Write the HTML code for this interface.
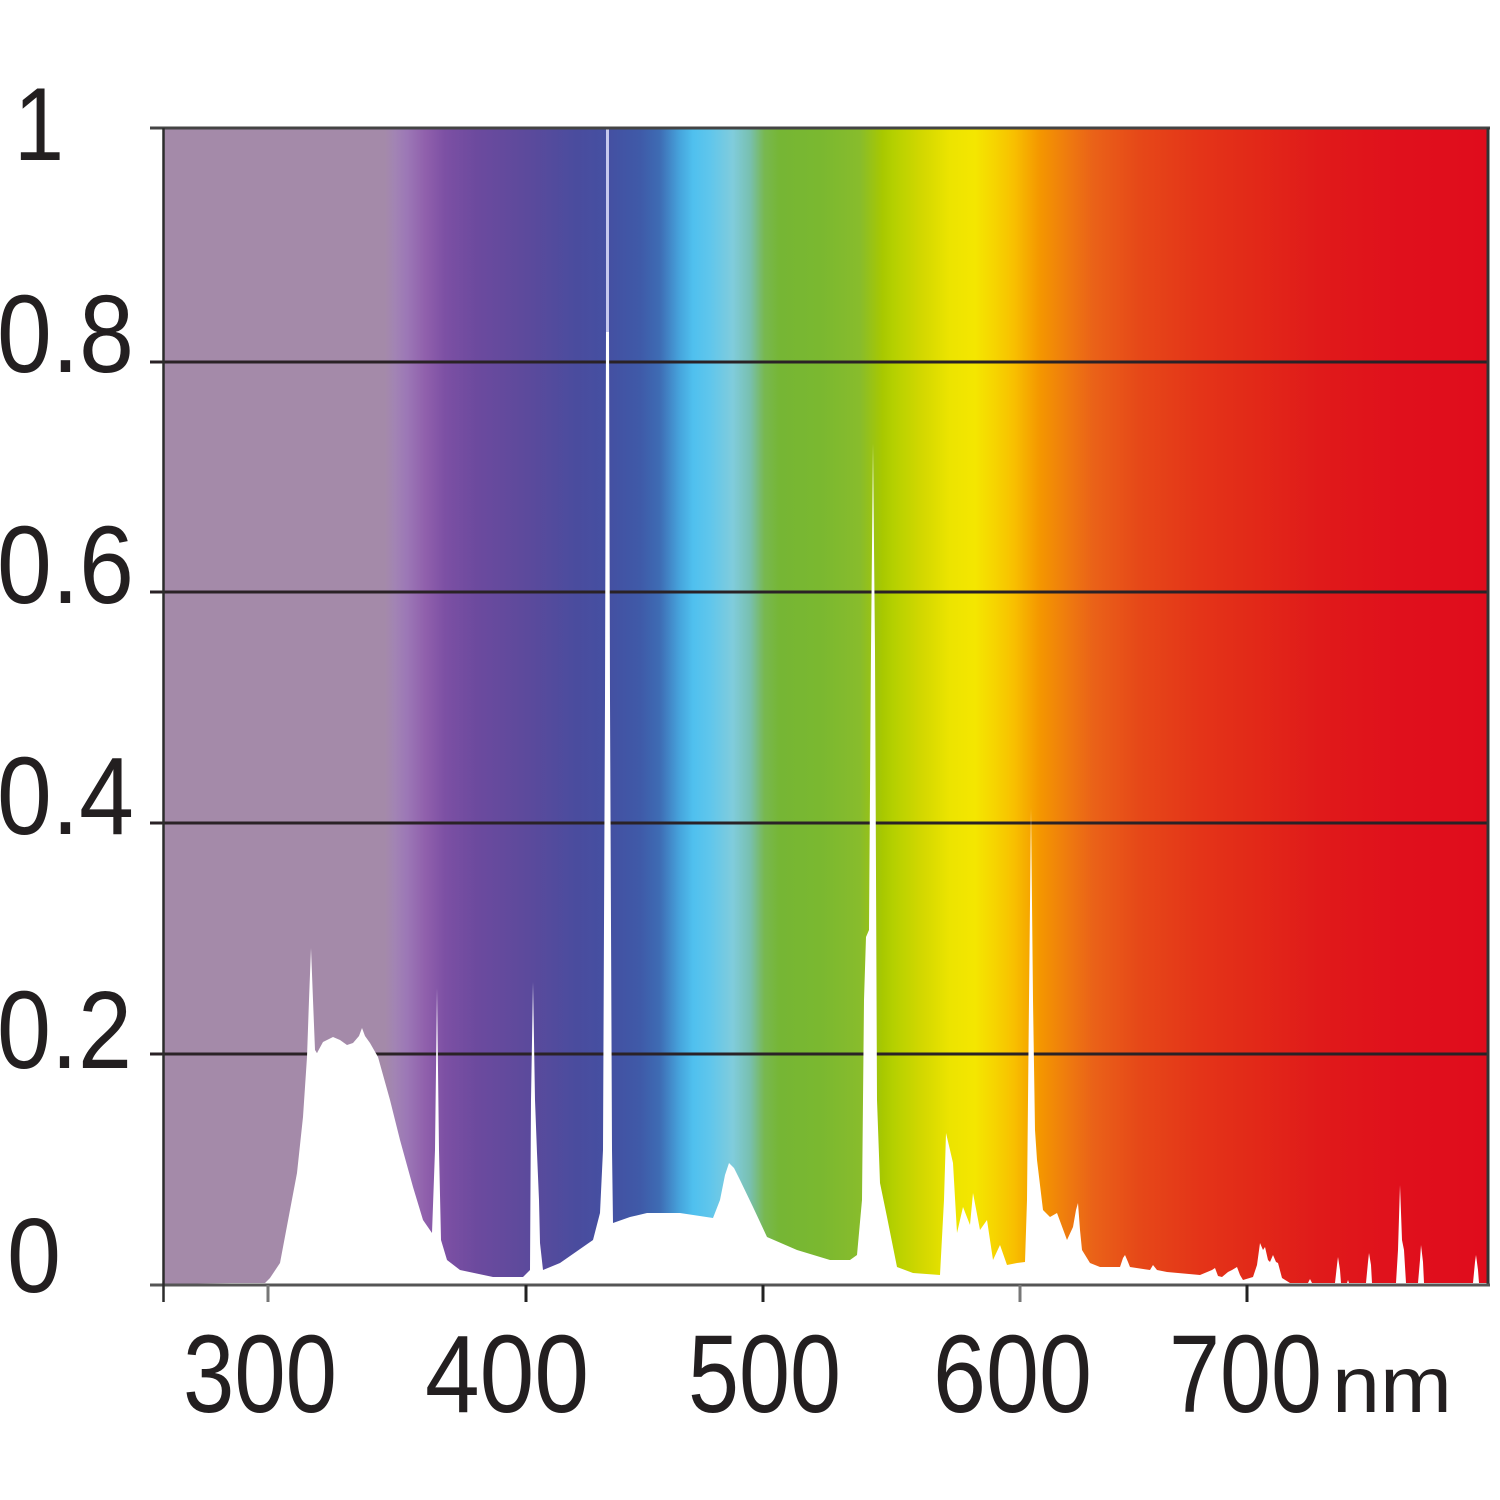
<!DOCTYPE html>
<html>
<head>
<meta charset="utf-8">
<style>
html,body{margin:0;padding:0;background:#fff;}
svg{display:block;}
text{font-family:"Liberation Sans",Arial,sans-serif;fill:#231f20;}
</style>
</head>
<body>
<svg width="1500" height="1500" viewBox="0 0 1500 1500" xmlns="http://www.w3.org/2000/svg">
<defs>
<linearGradient id="spec" gradientUnits="userSpaceOnUse" x1="163" y1="0" x2="1488" y2="0">
<stop offset="0" stop-color="#a48aa9"/>
<stop offset="0.1675" stop-color="#a48aa9"/>
<stop offset="0.175" stop-color="#a284b4"/>
<stop offset="0.184" stop-color="#9c78b6"/>
<stop offset="0.198" stop-color="#9060ac"/>
<stop offset="0.213" stop-color="#7c50a4"/>
<stop offset="0.237" stop-color="#6c4a9e"/>
<stop offset="0.275" stop-color="#5c4a9c"/>
<stop offset="0.312" stop-color="#4a4c9e"/>
<stop offset="0.337" stop-color="#4450a2"/>
<stop offset="0.360" stop-color="#3f5aa8"/>
<stop offset="0.375" stop-color="#3e6cb4"/>
<stop offset="0.390" stop-color="#46a4dc"/>
<stop offset="0.400" stop-color="#4fc0ee"/>
<stop offset="0.413" stop-color="#60c6ec"/>
<stop offset="0.430" stop-color="#80ccdc"/>
<stop offset="0.443" stop-color="#78c0b0"/>
<stop offset="0.454" stop-color="#78b850"/>
<stop offset="0.466" stop-color="#76b634"/>
<stop offset="0.496" stop-color="#7ab830"/>
<stop offset="0.526" stop-color="#88bc2c"/>
<stop offset="0.543" stop-color="#a8c800"/>
<stop offset="0.551" stop-color="#b4d000"/>
<stop offset="0.574" stop-color="#d4d800"/>
<stop offset="0.594" stop-color="#ece400"/>
<stop offset="0.613" stop-color="#f4e600"/>
<stop offset="0.628" stop-color="#f6d400"/>
<stop offset="0.642" stop-color="#f8c000"/>
<stop offset="0.662" stop-color="#f49600"/>
<stop offset="0.685" stop-color="#ee7810"/>
<stop offset="0.702" stop-color="#ea6218"/>
<stop offset="0.737" stop-color="#e64818"/>
<stop offset="0.783" stop-color="#e43418"/>
<stop offset="0.820" stop-color="#e22a18"/>
<stop offset="0.873" stop-color="#e01a1a"/>
<stop offset="0.934" stop-color="#e0101c"/>
<stop offset="1" stop-color="#e00c1c"/>
</linearGradient>
</defs>

<rect x="163" y="128" width="1325" height="1157" fill="url(#spec)"/>

<g stroke="#2a2226" stroke-width="3">
<line x1="150" y1="362" x2="1488" y2="362"/>
<line x1="150" y1="592" x2="1488" y2="592"/>
<line x1="150" y1="823" x2="1488" y2="823"/>
<line x1="150" y1="1054" x2="1488" y2="1054"/>
</g>

<path fill="#ffffff" d="M163,1285 L163,1284 L232,1283 L265,1283 L270,1278 L280,1263 L290,1210 L297,1173 L303,1117 L307,1057 L309,1000 L311,948 L313,1000 L315,1050 L317,1053 L323,1042 L333,1037 L340,1040 L347,1045 L353,1043 L359,1036 L362,1028 L365,1036 L370,1043 L378,1057 L390,1100 L400,1140 L413,1187 L423,1220 L432,1233 L435,1150 L437,988 L439,1150 L441,1240 L447,1260 L460,1270 L493,1277 L523,1277 L530,1270 L531,1100 L533,982 L535,1100 L537,1153 L539,1200 L540,1243 L543,1270 L560,1263 L593,1240 L600,1213 L603,1150 L605,700 L606,330 L609,330 L610,700 L612,1150 L613,1223 L630,1217 L647,1213 L680,1213 L713,1218 L720,1200 L725,1175 L729,1163 L734,1168 L740,1180 L753,1207 L767,1237 L797,1250 L830,1260 L850,1260 L857,1255 L862,1200 L864,1000 L866,937 L869,930 L871,650 L873,443 L875,650 L877,1100 L880,1183 L887,1217 L897,1267 L913,1273 L940,1275 L944,1200 L946,1133 L950,1150 L953,1163 L957,1233 L963,1207 L970,1225 L973,1193 L980,1230 L987,1220 L993,1260 L1000,1245 L1007,1265 L1017,1263 L1025,1262 L1027,1200 L1029,1000 L1031,808 L1033,1000 L1035,1130 L1037,1160 L1043,1210 L1050,1217 L1057,1213 L1067,1240 L1073,1227 L1076,1210 L1078,1203 L1080,1230 L1082,1250 L1090,1263 L1100,1267 L1120,1267 L1123,1258 L1125,1255 L1128,1262 L1130,1267 L1150,1270 L1153,1265 L1157,1270 L1167,1272 L1200,1275 L1212,1270 L1215,1268 L1218,1276 L1222,1277 L1228,1272 L1232,1270 L1237,1267 L1240,1275 L1243,1280 L1253,1277 L1257,1265 L1260,1243 L1263,1250 L1265,1247 L1268,1260 L1270,1262 L1273,1255 L1276,1262 L1278,1263 L1282,1278 L1290,1283 L1308,1283 L1310,1279 L1312,1283 L1335,1283 L1337,1265 L1338,1257 L1340,1270 L1341,1283 L1347,1283 L1348,1280 L1349,1283 L1366,1283 L1368,1262 L1369,1253 L1371,1265 L1372,1283 L1396,1283 L1398,1250 L1400,1185 L1402,1240 L1404,1250 L1406,1283 L1418,1283 L1420,1260 L1421,1245 L1423,1262 L1424,1283 L1473,1283 L1475,1262 L1476,1255 L1478,1270 L1479,1283 L1487,1283 L1487,1285 Z"/>
<rect x="606" y="128" width="3" height="204" fill="#c6c8ee"/>

<line x1="150" y1="128" x2="1490" y2="128" stroke="#444" stroke-width="3"/>
<line x1="1488" y1="128" x2="1488" y2="1286" stroke="#333" stroke-width="3"/>
<line x1="150" y1="1285" x2="1490" y2="1285" stroke="#555" stroke-width="3"/>
<line x1="163.5" y1="128" x2="163.5" y2="1302" stroke="#2c2c2c" stroke-width="2.5"/>

<g stroke-width="3">
<line x1="268" y1="1285" x2="268" y2="1302" stroke="#777"/>
<line x1="526" y1="1285" x2="526" y2="1302" stroke="#222"/>
<line x1="763" y1="1285" x2="763" y2="1302" stroke="#222"/>
<line x1="1020" y1="1285" x2="1020" y2="1302" stroke="#777"/>
<line x1="1247" y1="1285" x2="1247" y2="1302" stroke="#222"/>
</g>

<text x="14" y="160" font-size="104" textLength="50" lengthAdjust="spacingAndGlyphs">1</text>
<text x="-3" y="372" font-size="110" textLength="137" lengthAdjust="spacingAndGlyphs">0.8</text>
<text x="-3" y="603" font-size="110" textLength="137" lengthAdjust="spacingAndGlyphs">0.6</text>
<text x="-3" y="834" font-size="110" textLength="137" lengthAdjust="spacingAndGlyphs">0.4</text>
<text x="-3" y="1068" font-size="110" textLength="135" lengthAdjust="spacingAndGlyphs">0.2</text>
<text x="7" y="1292" font-size="106" textLength="54" lengthAdjust="spacingAndGlyphs">0</text>

<text x="183" y="1412" font-size="110" textLength="154" lengthAdjust="spacingAndGlyphs">300</text>
<text x="425" y="1412" font-size="110" textLength="164" lengthAdjust="spacingAndGlyphs">400</text>
<text x="688" y="1412" font-size="110" textLength="153" lengthAdjust="spacingAndGlyphs">500</text>
<text x="933" y="1412" font-size="110" textLength="159" lengthAdjust="spacingAndGlyphs">600</text>
<text x="1169" y="1412" font-size="110" textLength="153" lengthAdjust="spacingAndGlyphs">700</text>
<text x="1332" y="1412" font-size="80" textLength="120" lengthAdjust="spacingAndGlyphs">nm</text>
</svg>
</body>
</html>
